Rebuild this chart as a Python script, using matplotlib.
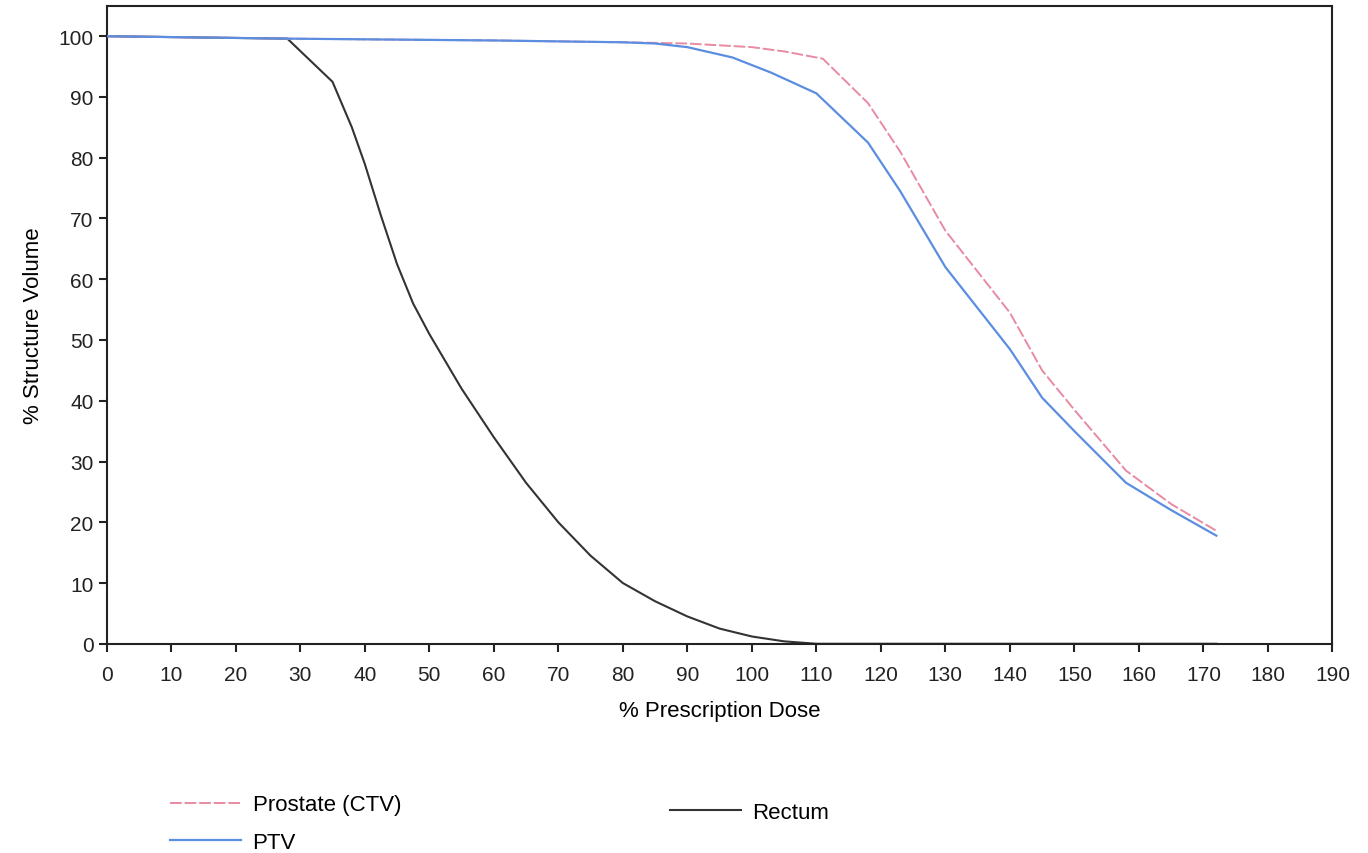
import matplotlib.pyplot as plt
import numpy as np

plt.rcParams['font.family'] = ['Liberation Sans', 'DejaVu Sans']

# % prescription dose vs % structure volume
rectum_dose = [0, 28, 35, 38, 40, 42.5, 45, 47.5, 50, 55, 60, 65, 70, 75, 80, 85, 90, 95, 100, 105, 110, 120, 172]
rectum_vol = [100, 99.6, 92.5, 85, 79, 70.5, 62.5, 56, 51, 42, 34, 26.5, 20, 14.5, 10, 7, 4.5, 2.5, 1.2, 0.4, 0, 0, 0]

ptv_dose = [0, 28, 60, 80, 85, 90, 97, 103, 110, 118, 123, 130, 140, 145, 150, 158, 165, 172]
ptv_vol = [100, 99.6, 99.3, 99, 98.8, 98.2, 96.5, 94, 90.6, 82.5, 74.5, 62, 48.5, 40.5, 35, 26.5, 22, 17.8]

ctv_dose = [0, 28, 60, 80, 85, 90, 100, 105, 111, 118, 123, 130, 140, 145, 150, 158, 165, 172]
ctv_vol = [100, 99.6, 99.3, 99, 98.9, 98.8, 98.2, 97.5, 96.3, 89, 81, 68, 54.5, 45, 38.5, 28.5, 23, 18.6]

x_ticks = np.arange(0, 191, 10)
y_ticks = np.arange(0, 101, 10)

fig = plt.figure(figsize=(13.68, 8.54), dpi=100)
ax = fig.add_axes([0.078, 0.245, 0.896, 0.747])

ctv, = ax.plot(ctv_dose, ctv_vol, color='#e88aa2', lw=1.4, ls=(0, (6, 1.5)),
               label='Prostate (CTV)', zorder=3)
ptv, = ax.plot(ptv_dose, ptv_vol, color='#5b8ee0', lw=1.6, label='PTV', zorder=4)
rec, = ax.plot(rectum_dose, rectum_vol, color='#333333', lw=1.5, label='Rectum', zorder=2)

ax.set_xlim(0, 190)
ax.set_ylim(0, 105)
ax.set_xticks(x_ticks)
ax.set_yticks(y_ticks)
ax.tick_params(labelsize=15, length=6, width=1.5, colors='#222222')
ax.tick_params(axis='x', pad=9)
for sp in ax.spines.values():
    sp.set_linewidth(1.5)
    sp.set_color('#222222')

ax.set_xlabel('% Prescription Dose', fontsize=16, labelpad=12)
ax.set_ylabel('% Structure Volume', fontsize=16, labelpad=10)

fig.legend([ctv, ptv], ['Prostate (CTV)', 'PTV'], loc='upper left',
           bbox_to_anchor=(0.1245, 0.0686), frameon=False, fontsize=16,
           handlelength=3.2, labelspacing=0.75, handletextpad=0.5,
           borderaxespad=0, borderpad=0)
fig.legend([rec], ['Rectum'], loc='upper left', bbox_to_anchor=(0.490, 0.0594),
           frameon=False, fontsize=16, handlelength=3.2, handletextpad=0.5,
           borderaxespad=0, borderpad=0)

fig.savefig('out.png', dpi=100)
